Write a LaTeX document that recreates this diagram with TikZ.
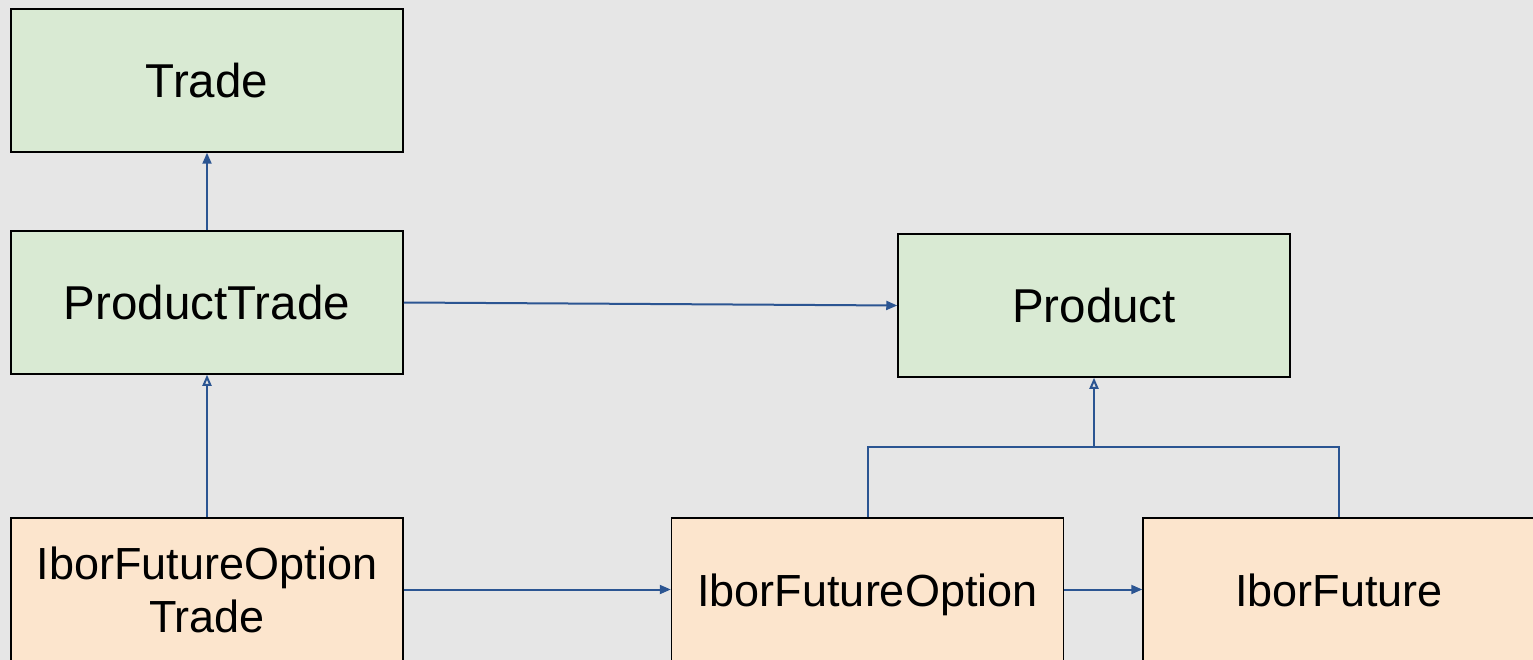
\documentclass[tikz,border=0pt]{standalone}
\usepackage{fontspec}
\setmainfont{Liberation Sans}
\usetikzlibrary{arrows.meta}
\definecolor{bg}{HTML}{E6E6E6}
\definecolor{corefill}{HTML}{D9EAD3}
\definecolor{specfill}{HTML}{FCE5CD}
\definecolor{link}{HTML}{2B5592}
\tikzset{
  box/.style={draw=black, line width=1.5pt, minimum width=392pt, minimum height=143pt,
    inner sep=0pt, align=center},
  oneline/.style={text height=34pt, text depth=0pt},
  core/.style={box, oneline, fill=corefill, font=\fontsize{47.5}{54}\selectfont},
  spec/.style={box, oneline, fill=specfill, font=\fontsize{45}{53}\selectfont},
  spectwo/.style={box, fill=specfill, font=\fontsize{45}{53}\selectfont},
  uses/.style={draw=link, line width=2pt, -{Triangle[length=11pt,width=9pt]}},
  extends/.style={draw=link, line width=2pt, -{Triangle[open,length=11pt,width=9pt]}},
  wire/.style={draw=link, line width=2pt}
}
\begin{document}
\begin{tikzpicture}[x=1pt,y=-1pt]
  \fill[bg] (0,0) rectangle (1533,660);
  \useasboundingbox (0,0) rectangle (1533,660);
  \clip (0,0) rectangle (1533,660);

  % generic trade hierarchy
  \node[core] (trade)   at (207,80.5)  {Trade};
  \node[core] (ptrade)  at (207,302.5) {ProductTrade};
  \node[core] (product) at (1094,305.5) {Product};

  % Ibor future option specifics
  \node[spectwo] (ifotrade) at (207,589.5) {IborFutureOption\\Trade};
  \node[spec] (ifo)      at (867.5,589.5)  {IborFutureOption};
  \node[spec] (ifut)     at (1339,589.5)   {IborFuture};

  \coordinate (bus) at (1094,447);

  \draw[uses] (ptrade) -- (trade);
  \draw[extends] (ifotrade) -- (ptrade);
  \draw[uses] (ptrade.east) -- (product.west);
  \draw[uses] (ifotrade) -- (ifo);
  \draw[uses] (ifo) -- (ifut);
  \draw[wire] (ifo.north) |- (bus) -| (ifut.north);
  \draw[extends] (bus) -- (product.south);
\end{tikzpicture}
\end{document}
